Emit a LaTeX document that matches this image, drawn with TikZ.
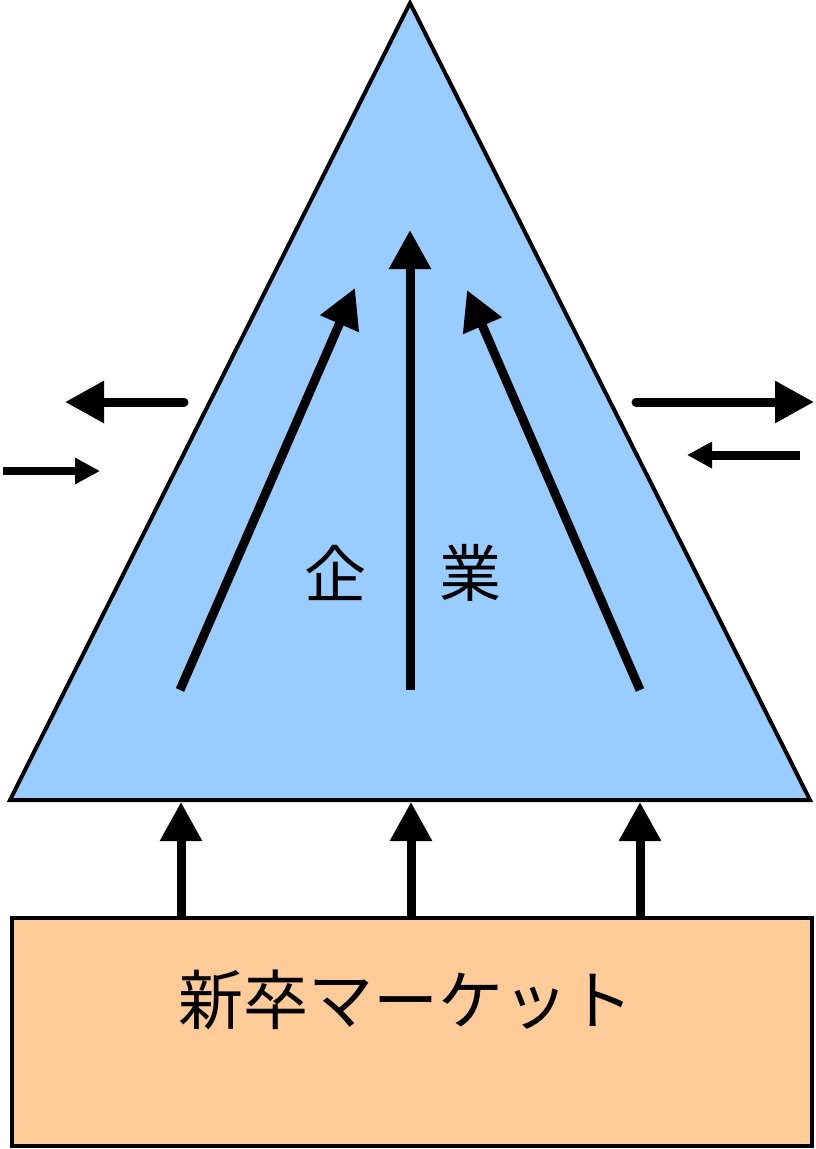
\documentclass[tikz,border=0pt]{standalone}
\usepackage{fontspec}
\newfontfamily\cjk{Noto Sans CJK JP}
\usetikzlibrary{arrows.meta}
\definecolor{tri}{HTML}{99CCFF}
\definecolor{box}{HTML}{FFCC99}
\begin{document}
\begin{tikzpicture}[x=1pt,y=-1pt,
  bigarrow/.style={line width=9pt,-{Triangle[length=39pt,width=40pt]}},
  smallarrow/.style={line width=8pt,-{Triangle[length=25pt,width=25pt]}},
  lbl/.style={font=\cjk\fontsize{62}{70}\selectfont,inner sep=0pt}]
\useasboundingbox (0,0) rectangle (815,1149);
% triangle
\coordinate (apex) at (410,3);
\coordinate (bl) at (10,800);
\coordinate (br) at (810,800);
\draw[fill=tri,line width=4pt,line join=miter] (apex) -- (bl) -- (br) -- cycle;
% market box
\node[draw,fill=box,line width=4pt,minimum width=800pt,minimum height=228pt,inner sep=0pt,anchor=north west] (market) at (10,916) {};
\node[lbl,font=\cjk\fontsize{65}{70}\selectfont] (mtext) at (406,1000) {新卒マーケット};
% labels
\node[lbl] (ki) at (335,573) {企};
\node[lbl] (gyo) at (470,573) {業};
% inner arrows
\coordinate (c0) at (410,690); \coordinate (c1) at (410,230);
\coordinate (l0) at (180,690); \coordinate (l1) at (355,288);
\coordinate (r0) at (640,690); \coordinate (r1) at (467,290);
\draw[bigarrow] (c0) -- (c1);
\draw[bigarrow] (l0) -- (l1);
\draw[bigarrow] (r0) -- (r1);
% bottom arrows
\foreach \x/\n in {181/a,411/b,640/c}{
  \coordinate (b\n0) at (\x,918);
  \coordinate (b\n1) at (\x,802);
  \draw[bigarrow] (b\n0) -- (b\n1);
}
% side arrows
\coordinate (tl0) at (184,402); \coordinate (tl1) at (65,402);
\coordinate (ll0) at (3,471); \coordinate (ll1) at (100,471);
\coordinate (tr0) at (636,402); \coordinate (tr1) at (814,402);
\coordinate (lr0) at (800,455); \coordinate (lr1) at (687,455);
\draw[bigarrow,line cap=round] (tl0) -- (tl1);
\draw[smallarrow] (ll0) -- (ll1);
\draw[bigarrow,line cap=round] (tr0) -- (tr1);
\draw[smallarrow,line width=9pt] (lr0) -- (lr1);
\end{tikzpicture}
\end{document}
